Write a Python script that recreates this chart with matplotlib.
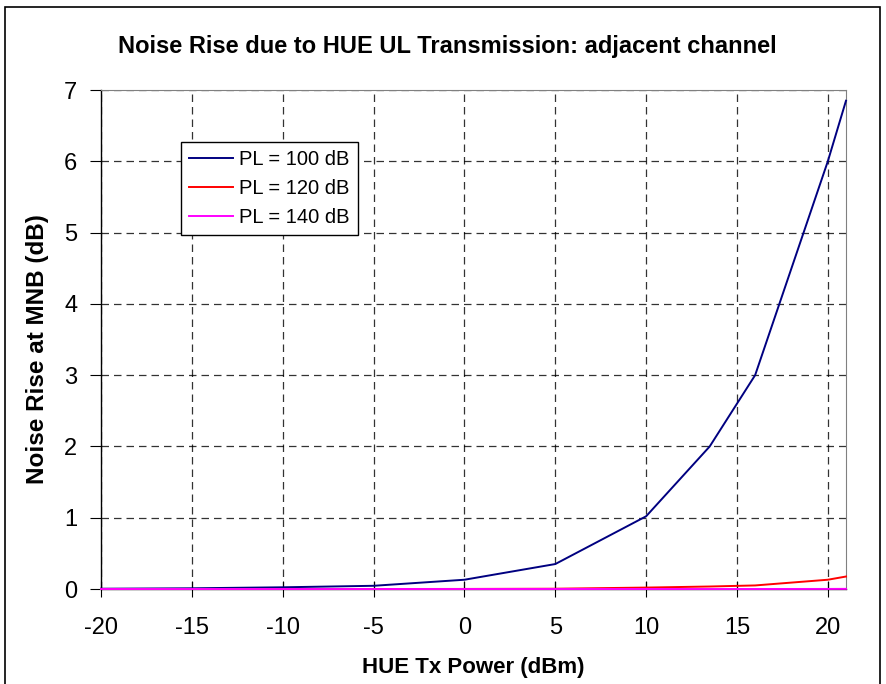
import matplotlib
matplotlib.use("Agg")
import matplotlib.pyplot as plt
from matplotlib.patches import Rectangle

plt.rcParams['font.family'] = ['Liberation Sans', 'DejaVu Sans']
plt.rcParams['axes.unicode_minus'] = False

tx_power = [-20, -15, -10, -5, 0, 5, 10, 13.5, 16, 20, 21]
pl_100 = [0.004, 0.01, 0.024, 0.045, 0.13, 0.35, 1.02, 2.0, 3.0, 6.0, 6.85]
pl_120 = [0.0, 0.0, 0.0, 0.0, 0.001, 0.004, 0.02, 0.035, 0.05, 0.13, 0.175]
pl_140 = [0.0, 0.0, 0.0, 0.0, 0.0, 0.0, 0.0, 0.0, 0.0, 0.001, 0.002]

series_labels = ["PL = 100 dB", "PL = 120 dB", "PL = 140 dB"]
series_colors = ["#000080", "#FF0000", "#FF00FF"]

x_ticks = [-20, -15, -10, -5, 0, 5, 10, 15, 20]
y_ticks = [0, 1, 2, 3, 4, 5, 6, 7]

W, H = 886, 684
fig = plt.figure(figsize=(W/100, H/100), dpi=100)
ax = fig.add_axes([101/W, 1-589/H, (846-101)/W, (589-90)/H])

for ys, lab, col in zip([pl_100, pl_120, pl_140], series_labels, series_colors):
    ax.plot(tx_power, ys, color=col, lw=1.4, label=lab, clip_on=False, zorder=3)

ax.set_xlim(-20, 21)
ax.set_ylim(0, 7)
ax.set_xticks(x_ticks)
ax.set_yticks(y_ticks)
ax.grid(True, color='black', linestyle=(0, (6, 4)), lw=0.9, alpha=0.8)
ax.set_axisbelow(True)

for s in ['top', 'right']:
    ax.spines[s].set_color('#808080')
for s in ['left', 'bottom']:
    ax.spines[s].set_color('black')
    ax.spines[s].set_linewidth(1.0)

ax.tick_params(axis='x', direction='inout', length=12, labelsize=17, pad=14)
ax.tick_params(axis='y', direction='out', length=8, labelsize=17, pad=9)

ax.set_xlabel("HUE Tx Power (dBm)", fontsize=16, fontweight='bold')
ax.xaxis.set_label_coords(0.5, (589-667)/(589-90), transform=ax.transAxes)
ax.xaxis.label.set_va('center')
ax.set_ylabel("Noise Rise at MNB (dB)", fontsize=17.5, fontweight='bold')
ax.yaxis.set_label_coords((38-101)/(846-101), (589-349)/(589-90))
ax.yaxis.label.set_va('center')
fig.text(447/W, 1-47/H, "Noise Rise due to HUE UL Transmission: adjacent channel",
         ha='center', va='center', fontsize=17, fontweight='bold')

leg = ax.legend(loc='upper left', bbox_to_anchor=((181-101)/745, (589-142)/499), fontsize=14.5,
                frameon=True, fancybox=False, edgecolor='black', framealpha=1,
                handlelength=2.2, borderpad=0.4, labelspacing=0.5, handletextpad=0.3,
                borderaxespad=0)
leg.get_frame().set_linewidth(1.0)
leg.set_zorder(5)

fig.patches.append(Rectangle((5/W, -0.02), 875/W, 1-7/H+0.02, transform=fig.transFigure,
                             fill=False, edgecolor='black', lw=1.2))

fig.savefig("out.png", dpi=100)
